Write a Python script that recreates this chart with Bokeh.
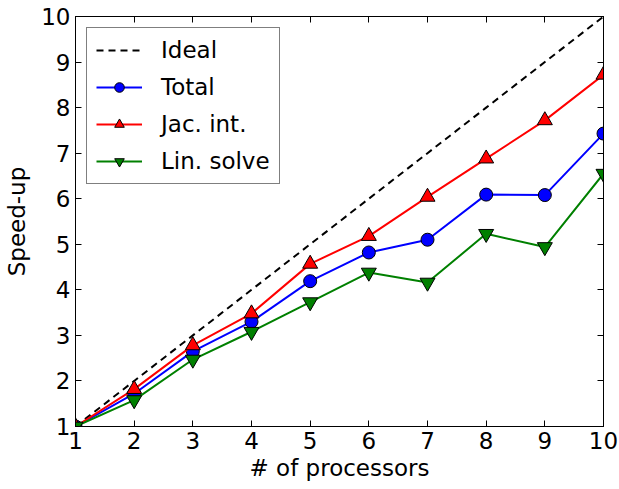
from bokeh.plotting import figure
from bokeh.models import (ColumnDataSource, Range1d, FixedTicker, LinearAxis,
                          Legend, LegendItem)
from bokeh.embed import file_html
from bokeh.resources import INLINE

# Speed-up measurements versus number of processors
processors = [1, 2, 3, 4, 5, 6, 7, 8, 9, 10]
ideal = [1, 2, 3, 4, 5, 6, 7, 8, 9, 10]
total = [1.0, 1.72, 2.65, 3.30, 4.19, 4.82, 5.10, 6.09, 6.08, 7.43]
jac_int = [1.0, 1.82, 2.78, 3.48, 4.57, 5.18, 6.04, 6.88, 7.72, 8.72]
lin_solve = [1.0, 1.58, 2.47, 3.08, 3.73, 4.38, 4.16, 5.23, 4.94, 6.55]
tick_values = [1, 2, 3, 4, 5, 6, 7, 8, 9, 10]

FONT = "DejaVu Sans"
SIZE = "23px"

src = ColumnDataSource(dict(x=processors, ideal=ideal, total=total,
                            jac=jac_int, lin=lin_solve))

p = figure(width=619, height=489, output_backend="svg", toolbar_location=None,
           x_range=Range1d(1, 10), y_range=Range1d(1, 10),
           min_border_left=75, min_border_right=16,
           min_border_top=16, min_border_bottom=63)
p.background_fill_color = "white"
p.border_fill_color = "white"
p.grid.visible = False
p.outline_line_color = "black"
p.outline_line_width = 1

r_ideal = p.line("x", "ideal", source=src, line_color="black", line_width=2,
                 line_dash="7 5")
l_total = p.line("x", "total", source=src, line_color="#0000ff", line_width=2)
m_total = p.scatter("x", "total", source=src, marker="circle", size=13,
                    fill_color="#0000ff", line_color="black", line_width=1)
l_jac = p.line("x", "jac", source=src, line_color="#ff0000", line_width=2)
m_jac = p.scatter("x", "jac", source=src, marker="triangle", size=15,
                  fill_color="#ff0000", line_color="black", line_width=1)
l_lin = p.line("x", "lin", source=src, line_color="#008000", line_width=2)
m_lin = p.scatter("x", "lin", source=src, marker="inverted_triangle", size=15,
                  fill_color="#008000", line_color="black", line_width=1)

ticker = FixedTicker(ticks=tick_values)


def style_axis(ax, show_labels=True):
    ax.ticker = ticker
    ax.major_tick_in = 6
    ax.major_tick_out = 0
    ax.minor_tick_in = 0
    ax.minor_tick_out = 0
    ax.axis_line_color = "black"
    ax.major_tick_line_color = "black"
    ax.major_label_text_font = FONT
    ax.major_label_text_color = "black"
    ax.major_label_text_font_size = SIZE
    if show_labels:
        ax.major_label_standoff = 5
    else:
        # mirrored tick marks only, no numbers
        ax.major_label_overrides = {t: "" for t in tick_values}
        ax.major_label_standoff = 0
    ax.axis_label_text_font = FONT
    ax.axis_label_text_font_size = SIZE
    ax.axis_label_text_font_style = "normal"
    ax.axis_label_text_color = "black"


p.xaxis.axis_label = "# of processors"
p.yaxis.axis_label = "Speed-up"
style_axis(p.xaxis[0])
style_axis(p.yaxis[0])
p.xaxis.axis_label_standoff = 3
p.yaxis.axis_label_standoff = 8

top_axis = LinearAxis()
right_axis = LinearAxis()
style_axis(top_axis, show_labels=False)
style_axis(right_axis, show_labels=False)
p.add_layout(top_axis, "above")
p.add_layout(right_axis, "right")

legend = Legend(items=[
    LegendItem(label="Ideal", renderers=[r_ideal]),
    LegendItem(label="Total", renderers=[l_total, m_total]),
    LegendItem(label="Jac. int.", renderers=[l_jac, m_jac]),
    LegendItem(label="Lin. solve", renderers=[l_lin, m_lin]),
], location="top_left")
legend.margin = 11
legend.padding = 9
legend.spacing = 11
legend.glyph_width = 46
legend.glyph_height = 24
legend.label_height = 24
legend.label_standoff = 19
legend.label_text_font = FONT
legend.label_text_font_size = SIZE
legend.label_text_color = "black"
legend.border_line_color = "black"
legend.border_line_width = 1
legend.background_fill_color = "white"
legend.background_fill_alpha = 1
p.add_layout(legend)

open("out.html", "w").write(file_html(p, INLINE))
